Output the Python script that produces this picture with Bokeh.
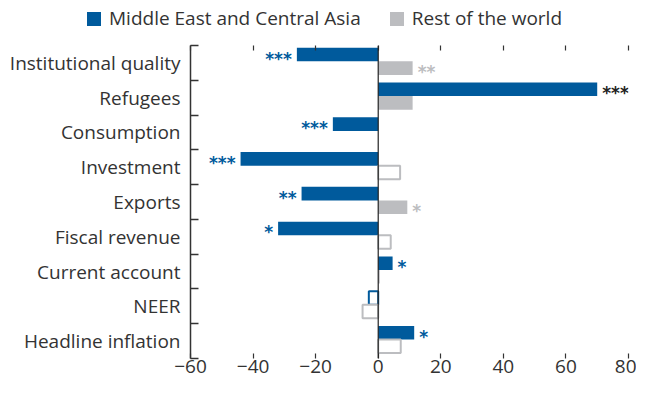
from bokeh.plotting import figure
from bokeh.layouts import column
from bokeh.models import (ColumnDataSource, Range1d, LinearAxis, FixedTicker, Span, Div)
from bokeh.transform import dodge
from bokeh.core.properties import value
from bokeh.embed import file_html
from bokeh.resources import INLINE

# ---- data ----
categories = ["Institutional quality", "Refugees", "Consumption", "Investment", "Exports",
              "Fiscal revenue", "Current account", "NEER", "Headline inflation"]
mcd_values = [-26, 70, -14.5, -44, -24.5, -32, 4.6, -3, 11.5]
mcd_stars = ["***", "***", "***", "***", "**", "*", "*", "", "*"]
row_values = [11, 11, 0, 7, 9.3, 4, 0.5, -5, 7.2]
row_stars = ["**", "", "", "", "*", "", "", "", ""]
row_significant = [True, True, False, False, True, False, True, False, False]
x_ticks = [-60, -40, -20, 0, 20, 40, 60, 80]
series_names = ["Middle East and Central Asia", "Rest of the world"]

BLUE = "#005a9c"
GREY = "#bcbdc0"
TEXT = "#333333"
FONT = "Open Sans"
FS = "19px"

n = len(categories)
slot = {c: n - 1 - i + 0.5 for i, c in enumerate(categories)}  # band centre, first category on top

p = figure(width=636, height=349,
           y_range=Range1d(0, n),
           x_range=Range1d(x_ticks[0], x_ticks[-1]),
           output_backend="svg", toolbar_location=None,
           x_axis_location=None, y_axis_location=None,
           min_border_left=190, min_border_right=8, min_border_top=9, min_border_bottom=27)
p.outline_line_color = None
p.grid.visible = False

# boundary ticks axis on the left
bax = LinearAxis(ticker=FixedTicker(ticks=list(range(n + 1))),
                 major_tick_in=8, major_tick_out=0, minor_tick_line_color=None,
                 axis_line_color=TEXT, major_tick_line_color=TEXT,
                 axis_line_width=1.5, major_tick_line_width=1.5,
                 major_label_overrides={i: "" for i in range(n + 1)},
                 major_label_text_font_size="1px", major_label_standoff=0)
p.add_layout(bax, "left")
cax = LinearAxis(ticker=FixedTicker(ticks=[slot[c] for c in categories]),
                 major_label_overrides={slot[c]: c for c in categories},
                 axis_line_color=None, major_tick_line_color=None, minor_tick_line_color=None,
                 major_tick_in=0, major_tick_out=0,
                 major_label_standoff=10, major_label_text_font=FONT,
                 major_label_text_font_size=FS, major_label_text_color=TEXT)
p.add_layout(cax, "left")

minus = {t: ("\u2212" + str(-t)) for t in x_ticks if t < 0}
xb = LinearAxis(ticker=FixedTicker(ticks=x_ticks), major_tick_in=5, major_tick_out=0,
                minor_tick_line_color=None, axis_line_color=None, major_tick_line_color=TEXT,
                major_tick_line_width=1.2, major_label_overrides=minus, major_label_standoff=1,
                major_label_text_font=FONT, major_label_text_font_size=FS,
                major_label_text_color=TEXT)
p.add_layout(xb, "below")
xt = LinearAxis(ticker=FixedTicker(ticks=x_ticks), major_tick_in=5, major_tick_out=0,
                minor_tick_line_color=None, axis_line_color=None, major_tick_line_color=TEXT,
                major_tick_line_width=1.2, major_label_overrides={t: "" for t in x_ticks},
                major_label_text_font_size="1px", major_label_standoff=0)
p.add_layout(xt, "above")

BLUE_OFF, GREY_OFF, H = 0.24, -0.15, 0.39

def subset(vals, keep):
    c = [slot[categories[i]] for i in range(len(vals)) if keep[i]]
    v = [vals[i] for i in range(len(vals)) if keep[i]]
    return ColumnDataSource(dict(pos=c, val=v))

mcd_sig = [s != "" for s in mcd_stars]
p.hbar(y=dodge("pos", BLUE_OFF), left=0, right="val", height=H,
       source=subset(mcd_values, mcd_sig), fill_color=BLUE, line_color=None)
p.hbar(y=dodge("pos", BLUE_OFF), left=0, right="val", height=H,
       source=subset(mcd_values, [not s for s in mcd_sig]), fill_color="white",
       line_color=BLUE, line_width=2)
p.hbar(y=dodge("pos", GREY_OFF), left=0, right="val", height=H,
       source=subset(row_values, row_significant), fill_color=GREY, line_color=None)
p.hbar(y=dodge("pos", GREY_OFF), left=0, right="val", height=H,
       source=subset(row_values, [not (s or v == 0) for s, v in zip(row_significant, row_values)]),
       fill_color="white", line_color=GREY, line_width=2)

p.add_layout(Span(location=0, dimension="height", line_color="#222222", line_width=1.2))

def stars(vals, marks, off, color_fn):
    for positive in (True, False):
        idx = [i for i in range(len(vals)) if marks[i] and ((vals[i] >= 0) == positive)]
        if not idx:
            continue
        src = ColumnDataSource(dict(pos=[slot[categories[i]] for i in idx], val=[vals[i] for i in idx],
                                    txt=[marks[i] for i in idx],
                                    col=[color_fn(i) for i in idx]))
        p.text(x="val", y=dodge("pos", off), text="txt", source=src,
               text_color="col", text_font=value("DejaVu Sans"), text_font_style="bold",
               text_font_size="17px", text_baseline="middle",
               text_align="left" if positive else "right",
               x_offset=5 if positive else -5, y_offset=4)

stars(mcd_values, mcd_stars, BLUE_OFF, lambda i: "#222222" if categories[i] == "Refugees" else BLUE)
stars(row_values, row_stars, GREY_OFF, lambda i: GREY)

# legend strip on top
sq = ("<span style=\"display:inline-block;width:14px;height:14px;background:{c};"
      "vertical-align:-1px;margin:0 8px 0 {m}px;\"></span>")
legend_html = ("<div style=\"font-family:'Open Sans';font-size:19px;color:#333333;line-height:36px;"
               "height:36px;white-space:nowrap;padding-left:87px;\">"
               + sq.format(c=BLUE, m=0) + series_names[0]
               + sq.format(c=GREY, m=29) + series_names[1] + "</div>")
lg = Div(text=legend_html, width=636, height=36, margin=(0, 0, 0, 0))

layout = column(lg, p, spacing=0)
open("out.html", "w").write(file_html(layout, INLINE))
